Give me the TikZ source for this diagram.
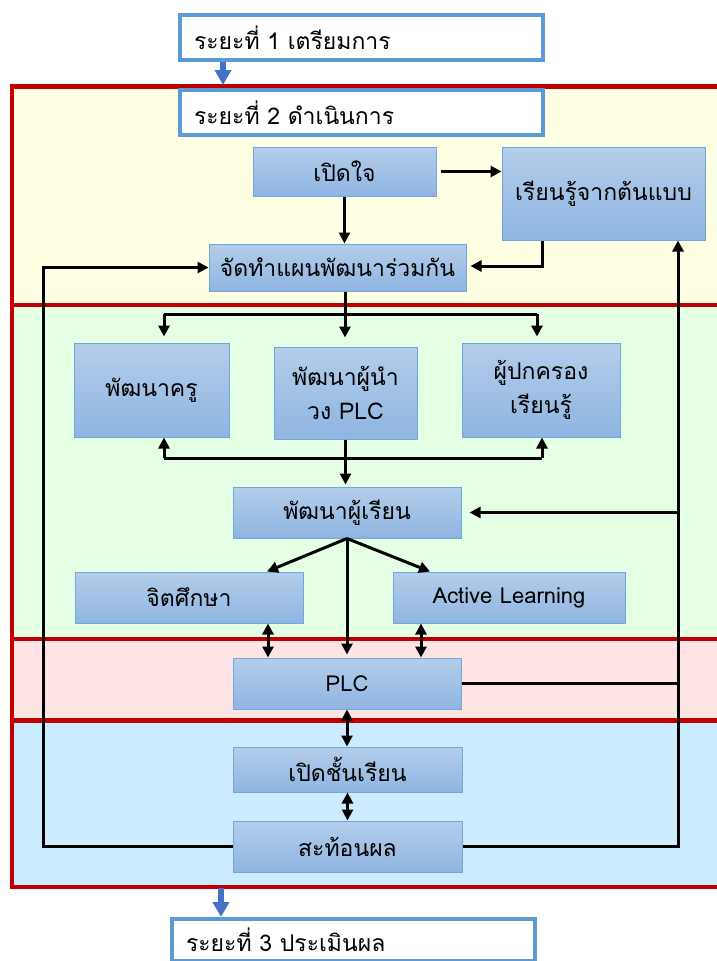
\documentclass[tikz,border=0pt]{standalone}
\usepackage{fontspec}
\newfontfamily\thaifont[Script=Thai]{Loma}
\usetikzlibrary{arrows.meta}
\definecolor{boxtop}{HTML}{B4CDEA}
\definecolor{boxbot}{HTML}{8FB5E2}
\definecolor{boxline}{HTML}{70A7DD}
\definecolor{phaseline}{HTML}{5B9BD5}
\definecolor{phasearrow}{HTML}{4472C4}
\definecolor{frame}{HTML}{C00000}
\definecolor{yellowbg}{HTML}{FFFFE4}
\definecolor{greenbg}{HTML}{E4FFE4}
\definecolor{pinkbg}{HTML}{FFE4E4}
\definecolor{bluebg}{HTML}{CCEBFF}

\begin{document}
\begin{tikzpicture}[x=1pt,y=-1pt,
  stepbox/.style={draw=boxline,line width=1,top color=boxtop,bottom color=boxbot,
    font=\thaifont\fontsize{23}{34}\selectfont,align=center,inner sep=2},
  phase/.style={draw=phaseline,line width=4,fill=white,minimum height=45,
    font=\thaifont\fontsize{23}{27}\selectfont,text width=335,align=left,inner xsep=14},
  section/.style={draw=frame,line width=4.5},
  line/.style={line width=3},
  flow/.style={line width=3,-{Triangle[length=11,width=11]}},
  dflow/.style={line width=3,{Triangle[length=11,width=11]}-{Triangle[length=11,width=11]}},
  bluearrow/.style={draw=phasearrow,line width=6,-{Triangle[length=15,width=16]}}]
  \clip (0,0) rectangle (717,961);
  \fill[white] (0,0) rectangle (717,961);
  % stages
  \draw[section,fill=yellowbg] (12,86.5) rectangle (730,305);
  \draw[section,fill=greenbg] (12,305) rectangle (730,639);
  \draw[section,fill=pinkbg] (12,639) rectangle (730,720.5);
  \draw[section,fill=bluebg] (12,720.5) rectangle (730,887);
  % phases
  \node[phase] (p1) at (361.5,37.5) {ระยะที่ 1 เตรียมการ};
  \node[phase] (p2) at (361.5,112.5) {ระยะที่ 2 ดำเนินการ};
  \node[phase,minimum height=42] (p3) at (353.5,940) {ระยะที่ 3 ประเมินผล};
  % steps
  \node[stepbox,minimum width=183,minimum height=49] (open) at (344.5,171.5) {เปิดใจ};
  \node[stepbox,minimum width=203,minimum height=93] (model) at (603.5,193.5) {เรียนรู้จากต้นแบบ};
  \node[stepbox,minimum width=257,minimum height=47] (plan) at (337.5,267.5) {จัดทำแผนพัฒนาร่วมกัน};
  \node[stepbox,minimum width=155,minimum height=94] (teacher) at (151.5,390) {พัฒนาครู};
  \node[stepbox,minimum width=143,minimum height=92] (leader) at (345.5,393) {พัฒนาผู้นำ\\วง PLC};
  \node[stepbox,minimum width=158,minimum height=94] (parent) at (541,390) {ผู้ปกครอง\\เรียนรู้};
  \node[stepbox,minimum width=228,minimum height=51] (student) at (347,512.5) {พัฒนาผู้เรียน};
  \node[stepbox,minimum width=228,minimum height=51] (mind) at (189,597.5) {จิตศึกษา};
  \node[stepbox,minimum width=232,minimum height=51,font=\thaifont\fontsize{22}{26}\selectfont] (active) at (509,597.5) {Active Learning};
  \node[stepbox,minimum width=228,minimum height=51,font=\thaifont\fontsize{22}{26}\selectfont] (plc) at (347,683.5) {PLC};
  \node[stepbox,minimum width=229,minimum height=45] (classroom) at (347.5,769.5) {เปิดชั้นเรียน};
  \node[stepbox,minimum width=229,minimum height=51] (reflect) at (347.5,846.5) {สะท้อนผล};
  % turning points
  \coordinate (lx) at (43,0);
  \coordinate (rx) at (678,0);
  \coordinate (m) at (542,266);
  \coordinate (tl) at (164,314);
  \coordinate (tm) at (345,314);
  \coordinate (tr) at (537,314);
  \coordinate (bl) at (164,458);
  \coordinate (br) at (542,458);
  \coordinate (mt) at (267,0);
  \coordinate (at) at (430,0);
  \coordinate (md) at (268,0);
  \coordinate (ad) at (421,0);
  \coordinate (ba) at (223,85);
  \coordinate (bb) at (221,888);
  % blue arrows
  \draw[bluearrow] (p1.south -| ba) -- (ba);
  \draw[bluearrow] (bb) -- (bb |- p3.north);
  % connectors
  \draw[flow,shorten <=4] (open.east) -- (open.east -| model.west);
  \draw[flow] (open.south) -- (open.south |- plan.north);
  \draw[flow,shorten >=4] (model.south -| m) -- (m) -- (m -| plan.east);
  \draw[flow] (reflect.west) -- (reflect.west -| lx) -- (plan.west -| lx) -- (plan.west);
  \draw[flow] (reflect.east) -- (reflect.east -| rx) -- (model.south -| rx);
  \draw[flow,shorten >=8] (student.east -| rx) -- (student.east);
  \draw[line] (plc.east) -- (plc.east -| rx);
  \draw[line] (tm |- plan.south) -- (tm);
  \draw[line] (tl) -- (tr);
  \draw[flow,shorten >=6] (tl) -- (tl |- teacher.north);
  \draw[flow,shorten >=9] (tm) -- (tm |- leader.north);
  \draw[flow,shorten >=6] (tr) -- (tr |- parent.north);
  \draw[line] (bl) -- (br);
  \draw[flow] (bl) -- (bl |- teacher.south);
  \draw[flow] (br) -- (br |- parent.south);
  \draw[flow,shorten >=2] (leader.south) -- (leader.south |- student.north);
  \draw[flow] (student.south) -- (mind.north -| mt);
  \draw[flow] (student.south) -- (active.north -| at);
  \draw[flow,shorten >=3] (student.south) -- (student.south |- plc.north);
  \draw[dflow] (mind.south -| md) -- (plc.north -| md);
  \draw[dflow] (active.south -| ad) -- (plc.north -| ad);
  \draw[dflow] (plc.south) -- (plc.south |- classroom.north);
  \draw[dflow] (classroom.south) -- (classroom.south |- reflect.north);
\end{tikzpicture}
\end{document}
